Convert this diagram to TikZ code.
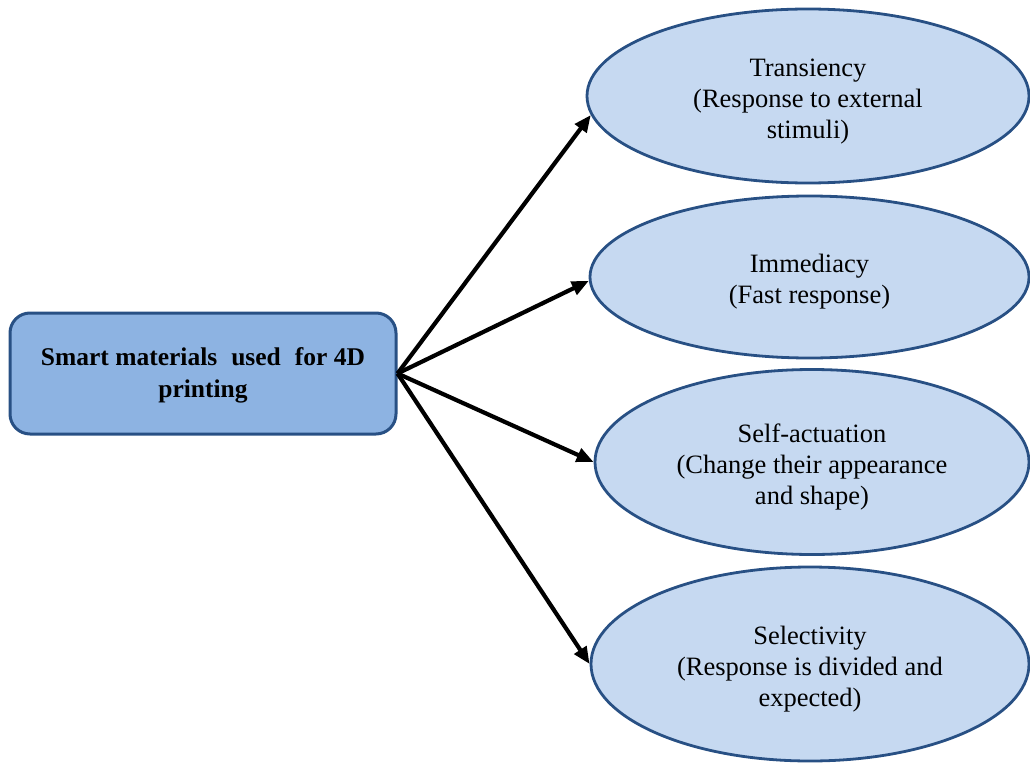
\documentclass[tikz,border=0pt]{standalone}
\usepackage{fontspec}
\setmainfont{Liberation Serif}
\usetikzlibrary{shapes.geometric,arrows.meta}

\definecolor{boxfill}{RGB}{141,179,226}
\definecolor{ellfill}{RGB}{198,217,241}
\definecolor{edgeblue}{RGB}{40,80,132}

% invisible strut that lowers a node's text block a little
\newcommand\padtop[1]{\rule{0pt}{#1}}

\tikzset{
  rootbox/.style={draw=edgeblue, fill=boxfill, line width=3pt,
    rounded corners=20pt, inner sep=0pt, align=center,
    font=\fontsize{25.5}{31.5}\selectfont\bfseries},
  propellipse/.style={ellipse, draw=edgeblue, fill=ellfill, line width=2.8pt,
    inner sep=0pt, align=center, font=\fontsize{26.5}{31}\selectfont},
  branch/.style={line width=4.2pt, -{Triangle[length=17pt,width=14pt]}},
}

\begin{document}
\begin{tikzpicture}[x=1pt, y=-1pt]
  \useasboundingbox (0,0) rectangle (1030,765);

  % central concept
  \node[rootbox, minimum width=386pt, minimum height=121pt] (root) at (203,373.5)
    {\padtop{21.5pt}Smart materials\hspace{0.3em} used\hspace{0.3em} for 4D\\printing};

  % properties
  \node[propellipse, minimum width=442pt, minimum height=174pt] (trans) at (808,96)
    {\padtop{28.5pt}Transiency\\(Response to external\\stimuli)};
  \node[propellipse, minimum width=439pt, minimum height=162pt] (immed) at (809.5,277)
    {\padtop{28.5pt}Immediacy\\(Fast response)};
  \node[propellipse, minimum width=434pt, minimum height=185pt] (selfact) at (812,462)
    {\padtop{28.5pt}Self-actuation\\(Change their appearance\\and shape)};
  \node[propellipse, minimum width=438pt, minimum height=194pt] (select) at (810,664)
    {\padtop{28.5pt}Selectivity\\(Response is divided and\\expected)};

  % connectors
  \draw[branch] (root.east) -- (trans.185);
  \draw[branch] (root.east) -- (immed.181);
  \draw[branch] (root.east) -- (selfact.west);
  \draw[branch] (root.east) -- (select.west);
\end{tikzpicture}
\end{document}
